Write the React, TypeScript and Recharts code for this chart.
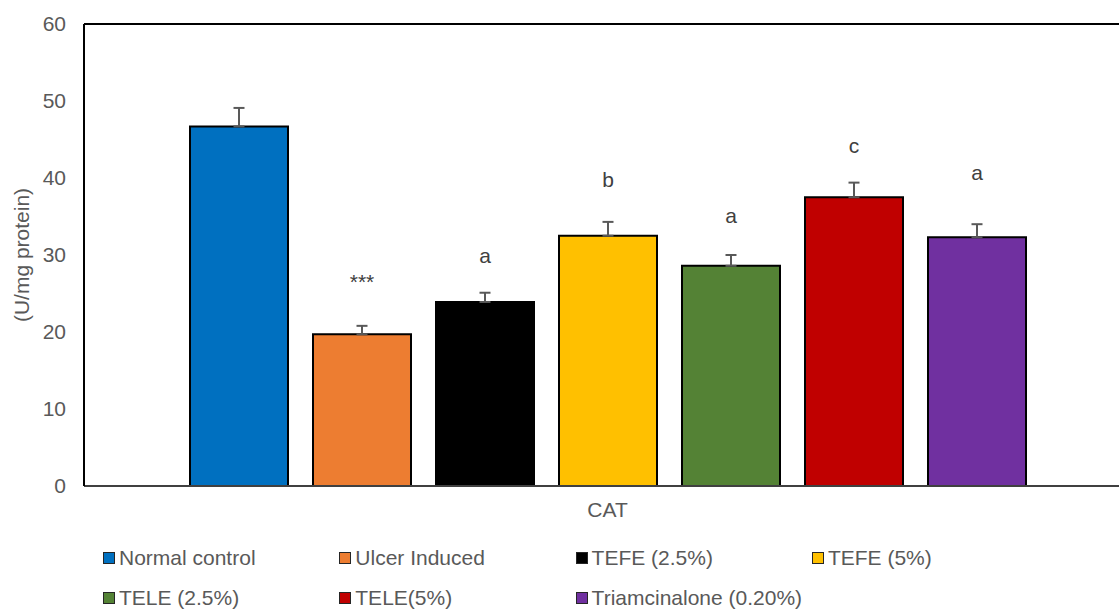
import React from 'react';
import { BarChart, Bar, XAxis, YAxis, ErrorBar, Legend, ReferenceLine } from 'recharts';

const categories = ['CAT'];
const seriesNames = [
  'Normal control',
  'Ulcer Induced',
  'TEFE (2.5%)',
  'TEFE (5%)',
  'TELE (2.5%)',
  'TELE(5%)',
  'Triamcinalone (0.20%)',
];
const seriesValues = [46.7, 19.7, 23.9, 32.5, 28.6, 37.5, 32.3];
const seriesErrors = [2.4, 1.1, 1.2, 1.8, 1.4, 1.9, 1.7];
const significance = ['', '***', 'a', 'b', 'a', 'c', 'a'];
const significanceHeights = [0, 25.6, 28.9, 38.8, 34.1, 43.3, 39.7];
const seriesColors = ['#0070C0', '#ED7D31', '#000000', '#FFC000', '#548235', '#C00000', '#7030A0'];
const yTicks = [0, 10, 20, 30, 40, 50, 60];

const FONT = '"Liberation Sans", Arial, sans-serif';
const TEXT = '#595959';

const data = categories.map((name) => {
  const row: Record<string, unknown> = { name };
  seriesValues.forEach((v, i) => {
    row['v' + i] = v;
    row['e' + i] = [0, seriesErrors[i]];
  });
  return row;
});

const makeSigLabel = (i: number) => (props: any) => {
  const x = Number(props.x);
  const y = Number(props.y);
  const width = Number(props.width);
  const height = Number(props.height);
  const value = Number(props.value);
  if (!significance[i] || !value) return null;
  const pxPerUnit = height / value;
  const zeroY = y + height;
  return (
    <text
      x={x + width / 2}
      y={zeroY - significanceHeights[i] * pxPerUnit}
      textAnchor="middle"
      fill="#404040"
      fontSize={21}
      fontFamily={FONT}
    >
      {significance[i]}
    </text>
  );
};

const LegendGrid = () => (
  <div style={{ position: 'relative', width: 1119, height: 0, fontFamily: FONT }}>
    {seriesNames.map((name, i) => {
      const col = i % 4;
      const row = Math.floor(i / 4);
      return (
        <div
          key={name}
          style={{
            position: 'absolute',
            left: 103 + col * 236.3,
            top: 6 + row * 40,
            height: 24,
            display: 'flex',
            alignItems: 'center',
            whiteSpace: 'nowrap',
          }}
        >
          <span
            style={{
              display: 'inline-block',
              width: 10,
              height: 10,
              background: seriesColors[i],
              border: '1px solid #262626',
              marginRight: 4,
            }}
          />
          <span style={{ fontSize: 21, color: TEXT, lineHeight: '24px' }}>{name}</span>
        </div>
      );
    })}
  </div>
);

const YLabel = (props: any) => {
  const vb = props.viewBox || { x: 0, y: 24, width: 84, height: 462 };
  const cx = vb.x + 29;
  const cy = vb.y + vb.height / 2;
  return (
    <text
      x={cx}
      y={cy}
      transform={`rotate(-90, ${cx}, ${cy})`}
      textAnchor="middle"
      fill={TEXT}
      fontSize={21}
      fontFamily={FONT}
    >
      (U/mg protein)
    </text>
  );
};

export default function App() {
  return (
    <div
      style={{
        position: 'absolute',
        left: 0,
        top: 0,
        width: 1119,
        height: 610,
        overflow: 'hidden',
        background: '#fff',
      }}
    >
      <BarChart
        width={1141}
        height={610}
        data={data}
        margin={{ top: 24, right: 10, left: 0, bottom: 84 }}
        barCategoryGap={106}
        barGap={25}
      >
        <XAxis
          dataKey="name"
          tickLine={false}
          tickSize={0}
          tickMargin={16}
          height={40}
          axisLine={{ stroke: '#404040', strokeWidth: 2 }}
          tick={{ fill: TEXT, fontSize: 21, fontFamily: FONT }}
        />
        <YAxis
          domain={[0, 60]}
          ticks={yTicks}
          width={84}
          tickLine={false}
          tickSize={0}
          tickMargin={18}
          axisLine={{ stroke: '#000', strokeWidth: 2 }}
          tick={{ fill: TEXT, fontSize: 21, fontFamily: FONT }}
          label={<YLabel />}
        />
        <ReferenceLine y={60} stroke="#000" strokeWidth={2} ifOverflow="visible" />
        {seriesNames.map((name, i) => (
          <Bar
            key={name}
            dataKey={'v' + i}
            name={name}
            fill={seriesColors[i]}
            stroke="#000"
            strokeWidth={2}
            isAnimationActive={false}
            label={makeSigLabel(i)}
          >
            <ErrorBar dataKey={'e' + i} width={5.5} stroke="#595959" strokeWidth={2} direction="y" />
          </Bar>
        ))}
        <Legend
          content={() => <LegendGrid />}
          wrapperStyle={{ position: 'absolute', left: 0, top: 540, width: 1119, height: 0 }}
        />
      </BarChart>
    </div>
  );
}
